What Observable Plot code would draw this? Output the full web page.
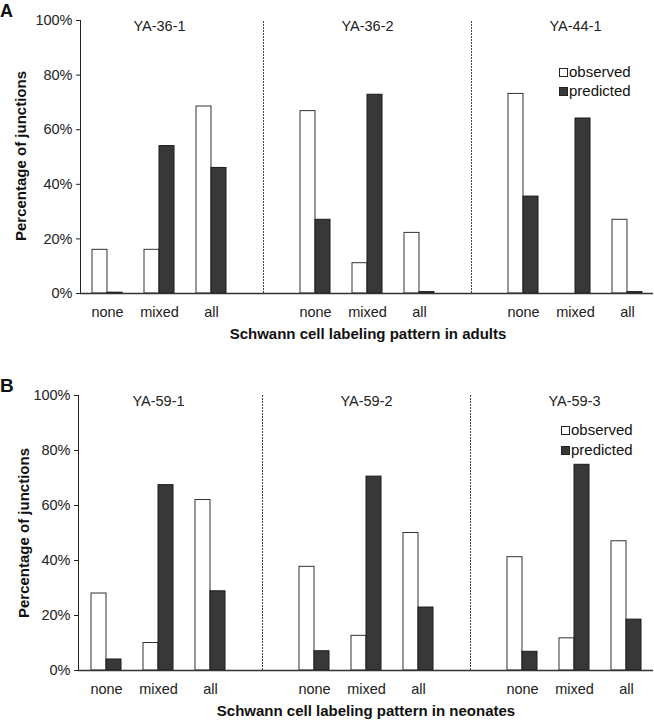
<!DOCTYPE html>
<html><head><meta charset="utf-8">
<script src="https://cdn.jsdelivr.net/npm/d3@7"></script>
<script src="https://cdn.jsdelivr.net/npm/@observablehq/plot@0.6"></script>
<style>
body{margin:0;background:#fff;}
#fig{position:relative;width:654px;height:720px;font-family:"Liberation Sans",Arial,Helvetica,sans-serif;color:#111;overflow:hidden;background:#fff}
.abs{position:absolute;white-space:nowrap;line-height:1}
.svgwrap{position:absolute;left:0}
.bold{font-weight:bold}
.sq{position:absolute;width:7px;height:7px;border:1px solid #222}
</style></head><body><div id="fig"></div>
<script>
const categories = ["none", "mixed", "all"];
const yTicks = [0, 20, 40, 60, 80, 100];
const seriesNames = ["observed", "predicted"];

const groupsA = ["YA-36-1", "YA-36-2", "YA-44-1"];
const observedA = [16, 16, 68.5, 66.8, 11.1, 22.2, 73.1, 0, 27];
const predictedA = [0.3, 54, 46, 27, 72.8, 0.5, 35.5, 64.1, 0.5];

const groupsB = ["YA-59-1", "YA-59-2", "YA-59-3"];
const observedB = [28, 10, 62, 37.7, 12.6, 50, 41.2, 11.7, 47];
const predictedB = [4, 67.4, 28.8, 7, 70.5, 22.9, 6.8, 74.8, 18.5];

const titleA = "Schwann cell labeling pattern in adults";
const titleB = "Schwann cell labeling pattern in neonates";
const yTitle = "Percentage of junctions";

function makePanel(groups, observed, predicted, o) {
  const slots = [];
  const rows = [];
  groups.forEach((g, gi) => {
    categories.forEach((c, ci) => {
      const key = g + "|" + c;
      slots.push(key);
      rows.push({group: g, category: c, key, series: "observed", value: observed[gi * 3 + ci]});
      rows.push({group: g, category: c, key, series: "predicted", value: predicted[gi * 3 + ci]});
    });
    if (gi < groups.length - 1) slots.push("gap" + gi);
  });
  const gaps = slots.filter(k => k.startsWith("gap"));
  const labelRows = groups.map(g => ({group: g, key: g + "|mixed"}));
  return Plot.plot({
    width: 654,
    height: o.height,
    marginLeft: o.marginLeft,
    marginRight: 1,
    marginTop: o.marginTop,
    marginBottom: o.marginBottom,
    style: {fontFamily: "Liberation Sans, Arial, Helvetica, sans-serif", fontSize: "14.5px", color: "#222", background: "transparent", overflow: "visible"},
    x: {domain: slots, padding: 0, tickSize: 0, tickPadding: 13,
        tickFormat: k => k.startsWith("gap") ? "" : k.split("|")[1], label: null},
    y: {domain: [0, 100], ticks: yTicks, tickFormat: d => d + "%", tickSize: 4, tickPadding: 4, line: true, label: null},
    marks: [
      Plot.ruleX(gaps, {x: d => d, y1: 0, y2: 100, stroke: "#444", strokeDasharray: "2,1"}),
      Plot.barY(rows.filter(d => d.series === "observed" && d.value > 0),
        {x: "key", y: "value", fill: "white", stroke: "#333", insetLeft: 11, insetRight: 26}),
      Plot.barY(rows.filter(d => d.series === "predicted" && d.value > 0),
        {x: "key", y: "value", fill: "#383838", stroke: "#1a1a1a", insetLeft: 26, insetRight: 11}),
      Plot.ruleY([0], {stroke: "#333", strokeWidth: 1.3}),
      Plot.text(labelRows, {x: "key", text: "group", frameAnchor: "top", dy: 0, fill: "#222"})
    ]
  });
}

const fig = document.getElementById("fig");

function addSvg(svg, top) {
  const w = document.createElement("div");
  w.className = "svgwrap";
  w.style.top = top + "px";
  w.appendChild(svg);
  fig.appendChild(w);
}

function addText(txt, left, baseline, size, cls, center) {
  const d = document.createElement("div");
  d.className = "abs " + (cls || "");
  d.textContent = txt;
  d.style.fontSize = size + "px";
  d.style.top = (baseline - 0.8465 * size) + "px";
  if (center) { d.style.left = left + "px"; d.style.transform = "translateX(-50%)"; }
  else d.style.left = left + "px";
  fig.appendChild(d);
  return d;
}

function addYTitle(txt, cx, cy) {
  const d = document.createElement("div");
  d.className = "abs bold";
  d.textContent = txt;
  d.style.fontSize = "15px";
  d.style.left = cx + "px";
  d.style.top = cy + "px";
  d.style.transform = "translate(-50%,-50%) rotate(-90deg)";
  fig.appendChild(d);
}

function addLegend(left, baseline1, gap) {
  seriesNames.forEach((s, i) => {
    const b = baseline1 + i * gap;
    const sq = document.createElement("div");
    sq.className = "sq";
    sq.style.left = left + "px";
    sq.style.top = (b - 9) + "px";
    sq.style.background = s === "observed" ? "#fff" : "#383838";
    fig.appendChild(sq);
    addText(s, left + 10, b, 15, "");
  });
}

addSvg(makePanel(groupsA, observedA, predictedA, {height: 365, marginLeft: 80, marginTop: 20, marginBottom: 72}), 0);
addSvg(makePanel(groupsB, observedB, predictedB, {height: 355, marginLeft: 78, marginTop: 30, marginBottom: 50}), 365);

addText("A", 0, 17, 18, "bold");
addText("B", 0, 392, 19, "bold");
addText(titleA, 368, 339, 15, "bold", true);
addText(titleB, 366, 716, 15, "bold", true);
addYTitle(yTitle, 20, 156);
addYTitle(yTitle, 23, 533);
addLegend(559, 77, 19);
addLegend(561, 435, 20);
</script>
</body></html>
